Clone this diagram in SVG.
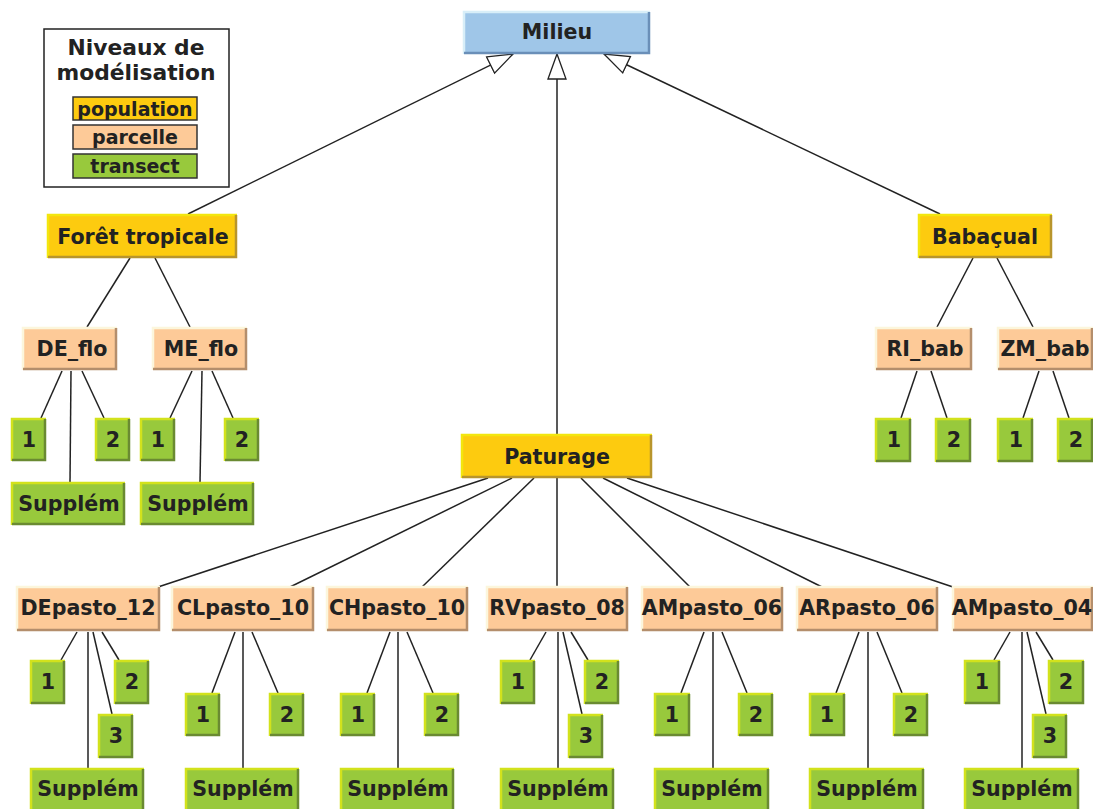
<svg xmlns="http://www.w3.org/2000/svg" width="1093" height="809" viewBox="0 0 1093 809">
<style>
text{font-family:"DejaVu Sans","Liberation Sans",sans-serif;font-weight:bold;fill:#222;text-anchor:middle}
.t{font-size:20.6px}
.lt{font-size:21.8px}
.li{font-size:19px}
.blue{fill:#9fc6e8}
.pop{fill:#fdcb0f}
.parc{fill:#fdca98}
.tr{fill:#98c93c}
.hl,.sh{fill:none;stroke-width:2.5}
.blue-h{stroke:#d8eef8}.blue-s{stroke:#6a8fb8}
.pop-h{stroke:#f3e60e}.pop-s{stroke:#b8952c}
.parc-h{stroke:#fcf6dc}.parc-s{stroke:#b48e6c}
.tr-h{stroke:#d2e21c}.tr-s{stroke:#6a8a32}
#connectors line{stroke:#222;stroke-width:1.5}
</style>
<defs>
<marker id="tri" markerUnits="userSpaceOnUse" markerWidth="30" markerHeight="22" refX="26" refY="10" orient="auto">
<path d="M1,1 L26,10 L1,19 z" fill="#fff" stroke="#222" stroke-width="1.3"/>
</marker>
</defs>
<rect width="1093" height="809" fill="#fff"/>

<g id="legend">
<rect x="44" y="29" width="185" height="158" fill="#fff" stroke="#222" stroke-width="1.5"/>
<text class="lt" x="136" y="55">Niveaux de</text>
<text class="lt" x="136" y="80">modélisation</text>
<rect x="73" y="97" width="124" height="23" class="pop" stroke="#333" stroke-width="1.5"/>
<text class="li" x="135" y="115.5">population</text>
<rect x="73" y="125" width="124" height="24" class="parc" stroke="#333" stroke-width="1.5"/>
<text class="li" x="135" y="143.5">parcelle</text>
<rect x="73" y="154" width="124" height="24" class="tr" stroke="#333" stroke-width="1.5"/>
<text class="li" x="135" y="172.5">transect</text>
</g>

<g id="connectors">
<line x1="188" y1="214" x2="513" y2="54" marker-end="url(#tri)"/>
<line x1="557" y1="434" x2="557" y2="54" marker-end="url(#tri)"/>
<line x1="940" y1="214" x2="604" y2="54" marker-end="url(#tri)"/>
<line x1="130" y1="258" x2="87" y2="327"/>
<line x1="155" y1="258" x2="190" y2="327"/>
<line x1="973" y1="258" x2="937" y2="327"/>
<line x1="997" y1="258" x2="1033" y2="327"/>
<line x1="62" y1="371" x2="41" y2="418"/>
<line x1="71" y1="371" x2="70" y2="482"/>
<line x1="82" y1="371" x2="104" y2="418"/>
<line x1="192" y1="371" x2="170" y2="418"/>
<line x1="202" y1="371" x2="200" y2="482"/>
<line x1="212" y1="371" x2="233" y2="418"/>
<line x1="917" y1="371" x2="901" y2="418"/>
<line x1="931" y1="371" x2="947" y2="418"/>
<line x1="1039" y1="371" x2="1023" y2="418"/>
<line x1="1053" y1="371" x2="1069" y2="418"/>
<line x1="488" y1="478" x2="158" y2="587"/>
<line x1="512" y1="478" x2="290" y2="587"/>
<line x1="534" y1="478" x2="422" y2="587"/>
<line x1="557" y1="478" x2="557" y2="587"/>
<line x1="581" y1="478" x2="690" y2="587"/>
<line x1="603" y1="478" x2="822" y2="587"/>
<line x1="627" y1="478" x2="953" y2="587"/>
<line x1="77" y1="632" x2="61" y2="660"/>
<line x1="88" y1="632" x2="88" y2="768"/>
<line x1="93" y1="632" x2="112" y2="714"/>
<line x1="102" y1="632" x2="119" y2="660"/>
<line x1="235" y1="632" x2="212" y2="693"/>
<line x1="243" y1="632" x2="243" y2="768"/>
<line x1="252" y1="632" x2="278" y2="693"/>
<line x1="390" y1="632" x2="367" y2="693"/>
<line x1="398" y1="632" x2="398" y2="768"/>
<line x1="407" y1="632" x2="433" y2="693"/>
<line x1="546" y1="632" x2="530" y2="660"/>
<line x1="558" y1="632" x2="558" y2="768"/>
<line x1="563" y1="632" x2="582" y2="714"/>
<line x1="571" y1="632" x2="588" y2="660"/>
<line x1="704" y1="632" x2="681" y2="693"/>
<line x1="713" y1="632" x2="713" y2="768"/>
<line x1="722" y1="632" x2="747" y2="693"/>
<line x1="859" y1="632" x2="836" y2="693"/>
<line x1="868" y1="632" x2="868" y2="768"/>
<line x1="877" y1="632" x2="902" y2="693"/>
<line x1="1010" y1="632" x2="994" y2="660"/>
<line x1="1022" y1="632" x2="1022" y2="768"/>
<line x1="1027" y1="632" x2="1046" y2="714"/>
<line x1="1036" y1="632" x2="1053" y2="660"/>
</g>

<g id="milieu"><rect class="blue" x="463" y="11" width="187" height="43"/><path class="hl blue-h" d="M464,54V12H650"/><path class="sh blue-s" d="M649,12V53H464"/><text class="t" x="557" y="38.5">Milieu</text></g>

<g id="foret"><rect class="pop" x="47" y="214" width="190" height="44"/><path class="hl pop-h" d="M48,258V215H237"/><path class="sh pop-s" d="M236,215V257H48"/><text class="t" x="143" y="243.5">Forêt tropicale</text></g>
<g id="babacual"><rect class="pop" x="918" y="214" width="134" height="44"/><path class="hl pop-h" d="M919,258V215H1052"/><path class="sh pop-s" d="M1051,215V257H919"/><text class="t" x="985" y="243.5">Babaçual</text></g>
<g id="paturage"><rect class="pop" x="461" y="434" width="191" height="44"/><path class="hl pop-h" d="M462,478V435H652"/><path class="sh pop-s" d="M651,435V477H462"/><text class="t" x="557" y="463.5">Paturage</text></g>

<g id="DE_flo"><rect class="parc" x="22" y="327" width="95" height="43"/><path class="hl parc-h" d="M23,370V328H117"/><path class="sh parc-s" d="M116,328V369H23"/><text class="t" x="72" y="355.5">DE_flo</text></g>
<g id="ME_flo"><rect class="parc" x="152" y="327" width="95" height="43"/><path class="hl parc-h" d="M153,370V328H247"/><path class="sh parc-s" d="M246,328V369H153"/><text class="t" x="201" y="355.5">ME_flo</text></g>
<g id="RI_bab"><rect class="parc" x="875" y="327" width="97" height="43"/><path class="hl parc-h" d="M876,370V328H972"/><path class="sh parc-s" d="M971,328V369H876"/><text class="t" x="925" y="355.5">RI_bab</text></g>
<g id="ZM_bab"><rect class="parc" x="997" y="327" width="96" height="43"/><path class="hl parc-h" d="M998,370V328H1093"/><path class="sh parc-s" d="M1092,328V369H998"/><text class="t" x="1045" y="355.5">ZM_bab</text></g>

<g id="DEpasto_12"><rect class="parc" x="16" y="586" width="144" height="45"/><path class="hl parc-h" d="M17,631V587H160"/><path class="sh parc-s" d="M159,587V630H17"/><text class="t" x="88" y="615">DEpasto_12</text></g>
<g id="CLpasto_10"><rect class="parc" x="171" y="586" width="143" height="45"/><path class="hl parc-h" d="M172,631V587H314"/><path class="sh parc-s" d="M313,587V630H172"/><text class="t" x="243" y="615">CLpasto_10</text></g>
<g id="CHpasto_10"><rect class="parc" x="326" y="586" width="142" height="45"/><path class="hl parc-h" d="M327,631V587H468"/><path class="sh parc-s" d="M467,587V630H327"/><text class="t" x="397" y="615">CHpasto_10</text></g>
<g id="RVpasto_08"><rect class="parc" x="486" y="586" width="142" height="45"/><path class="hl parc-h" d="M487,631V587H628"/><path class="sh parc-s" d="M627,587V630H487"/><text class="t" x="557" y="615">RVpasto_08</text></g>
<g id="AMpasto_06"><rect class="parc" x="641" y="586" width="142" height="45"/><path class="hl parc-h" d="M642,631V587H783"/><path class="sh parc-s" d="M782,587V630H642"/><text class="t" x="712" y="615">AMpasto_06</text></g>
<g id="ARpasto_06"><rect class="parc" x="796" y="586" width="142" height="45"/><path class="hl parc-h" d="M797,631V587H938"/><path class="sh parc-s" d="M937,587V630H797"/><text class="t" x="867" y="615">ARpasto_06</text></g>
<g id="AMpasto_04"><rect class="parc" x="952" y="586" width="141" height="45"/><path class="hl parc-h" d="M953,631V587H1093"/><path class="sh parc-s" d="M1092,587V630H953"/><text class="t" x="1022" y="615">AMpasto_04</text></g>

<g id="DE_flo_1"><rect class="tr" x="11" y="418" width="35" height="43"/><path class="hl tr-h" d="M12,461V419H46"/><path class="sh tr-s" d="M45,419V460H12"/><text class="t" x="29" y="446.5">1</text></g>
<g id="DE_flo_2"><rect class="tr" x="95" y="418" width="35" height="43"/><path class="hl tr-h" d="M96,461V419H130"/><path class="sh tr-s" d="M129,419V460H96"/><text class="t" x="113" y="446.5">2</text></g>
<g id="DE_flo_S"><rect class="tr" x="11" y="482" width="114" height="43"/><path class="hl tr-h" d="M12,525V483H125"/><path class="sh tr-s" d="M124,483V524H12"/><text class="t" x="69" y="510.5">Supplém</text></g>
<g id="ME_flo_1"><rect class="tr" x="140" y="418" width="35" height="43"/><path class="hl tr-h" d="M141,461V419H175"/><path class="sh tr-s" d="M174,419V460H141"/><text class="t" x="158" y="446.5">1</text></g>
<g id="ME_flo_2"><rect class="tr" x="224" y="418" width="35" height="43"/><path class="hl tr-h" d="M225,461V419H259"/><path class="sh tr-s" d="M258,419V460H225"/><text class="t" x="242" y="446.5">2</text></g>
<g id="ME_flo_S"><rect class="tr" x="140" y="482" width="114" height="43"/><path class="hl tr-h" d="M141,525V483H254"/><path class="sh tr-s" d="M253,483V524H141"/><text class="t" x="198" y="510.5">Supplém</text></g>

<g id="RI_bab_1"><rect class="tr" x="875" y="418" width="36" height="44"/><path class="hl tr-h" d="M876,462V419H911"/><path class="sh tr-s" d="M910,419V461H876"/><text class="t" x="894" y="446.5">1</text></g>
<g id="RI_bab_2"><rect class="tr" x="935" y="418" width="36" height="44"/><path class="hl tr-h" d="M936,462V419H971"/><path class="sh tr-s" d="M970,419V461H936"/><text class="t" x="954" y="446.5">2</text></g>
<g id="ZM_bab_1"><rect class="tr" x="997" y="418" width="36" height="44"/><path class="hl tr-h" d="M998,462V419H1033"/><path class="sh tr-s" d="M1032,419V461H998"/><text class="t" x="1016" y="446.5">1</text></g>
<g id="ZM_bab_2"><rect class="tr" x="1057" y="418" width="36" height="44"/><path class="hl tr-h" d="M1058,462V419H1093"/><path class="sh tr-s" d="M1092,419V461H1058"/><text class="t" x="1076" y="446.5">2</text></g>

<g id="DEp12_1"><rect class="tr" x="30" y="660" width="35" height="44"/><path class="hl tr-h" d="M31,704V661H65"/><path class="sh tr-s" d="M64,661V703H31"/><text class="t" x="48" y="689">1</text></g>
<g id="DEp12_2"><rect class="tr" x="114" y="660" width="35" height="44"/><path class="hl tr-h" d="M115,704V661H149"/><path class="sh tr-s" d="M148,661V703H115"/><text class="t" x="132" y="689">2</text></g>
<g id="DEp12_3"><rect class="tr" x="98" y="714" width="35" height="44"/><path class="hl tr-h" d="M99,758V715H133"/><path class="sh tr-s" d="M132,715V757H99"/><text class="t" x="116" y="743">3</text></g>
<g id="DEp12_S"><rect class="tr" x="30" y="768" width="114" height="44"/><path class="hl tr-h" d="M31,812V769H144"/><path class="sh tr-s" d="M143,769V811H31"/><text class="t" x="88" y="795.5">Supplém</text></g>

<g id="CLp10_1"><rect class="tr" x="185" y="693" width="35" height="43"/><path class="hl tr-h" d="M186,736V694H220"/><path class="sh tr-s" d="M219,694V735H186"/><text class="t" x="203" y="721.5">1</text></g>
<g id="CLp10_2"><rect class="tr" x="269" y="693" width="35" height="43"/><path class="hl tr-h" d="M270,736V694H304"/><path class="sh tr-s" d="M303,694V735H270"/><text class="t" x="287" y="721.5">2</text></g>
<g id="CLp10_S"><rect class="tr" x="185" y="768" width="114" height="44"/><path class="hl tr-h" d="M186,812V769H299"/><path class="sh tr-s" d="M298,769V811H186"/><text class="t" x="243" y="795.5">Supplém</text></g>

<g id="CHp10_1"><rect class="tr" x="340" y="693" width="35" height="43"/><path class="hl tr-h" d="M341,736V694H375"/><path class="sh tr-s" d="M374,694V735H341"/><text class="t" x="358" y="721.5">1</text></g>
<g id="CHp10_2"><rect class="tr" x="424" y="693" width="35" height="43"/><path class="hl tr-h" d="M425,736V694H459"/><path class="sh tr-s" d="M458,694V735H425"/><text class="t" x="442" y="721.5">2</text></g>
<g id="CHp10_S"><rect class="tr" x="340" y="768" width="114" height="44"/><path class="hl tr-h" d="M341,812V769H454"/><path class="sh tr-s" d="M453,769V811H341"/><text class="t" x="398" y="795.5">Supplém</text></g>

<g id="RVp08_1"><rect class="tr" x="500" y="660" width="35" height="44"/><path class="hl tr-h" d="M501,704V661H535"/><path class="sh tr-s" d="M534,661V703H501"/><text class="t" x="518" y="689">1</text></g>
<g id="RVp08_2"><rect class="tr" x="584" y="660" width="35" height="44"/><path class="hl tr-h" d="M585,704V661H619"/><path class="sh tr-s" d="M618,661V703H585"/><text class="t" x="602" y="689">2</text></g>
<g id="RVp08_3"><rect class="tr" x="568" y="714" width="35" height="44"/><path class="hl tr-h" d="M569,758V715H603"/><path class="sh tr-s" d="M602,715V757H569"/><text class="t" x="586" y="743">3</text></g>
<g id="RVp08_S"><rect class="tr" x="500" y="768" width="114" height="44"/><path class="hl tr-h" d="M501,812V769H614"/><path class="sh tr-s" d="M613,769V811H501"/><text class="t" x="558" y="795.5">Supplém</text></g>

<g id="AMp06_1"><rect class="tr" x="654" y="693" width="36" height="43"/><path class="hl tr-h" d="M655,736V694H690"/><path class="sh tr-s" d="M689,694V735H655"/><text class="t" x="672" y="721.5">1</text></g>
<g id="AMp06_2"><rect class="tr" x="738" y="693" width="35" height="43"/><path class="hl tr-h" d="M739,736V694H773"/><path class="sh tr-s" d="M772,694V735H739"/><text class="t" x="756" y="721.5">2</text></g>
<g id="AMp06_S"><rect class="tr" x="654" y="768" width="115" height="44"/><path class="hl tr-h" d="M655,812V769H769"/><path class="sh tr-s" d="M768,769V811H655"/><text class="t" x="712" y="795.5">Supplém</text></g>

<g id="ARp06_1"><rect class="tr" x="809" y="693" width="36" height="43"/><path class="hl tr-h" d="M810,736V694H845"/><path class="sh tr-s" d="M844,694V735H810"/><text class="t" x="827" y="721.5">1</text></g>
<g id="ARp06_2"><rect class="tr" x="893" y="693" width="35" height="43"/><path class="hl tr-h" d="M894,736V694H928"/><path class="sh tr-s" d="M927,694V735H894"/><text class="t" x="911" y="721.5">2</text></g>
<g id="ARp06_S"><rect class="tr" x="809" y="768" width="115" height="44"/><path class="hl tr-h" d="M810,812V769H924"/><path class="sh tr-s" d="M923,769V811H810"/><text class="t" x="867" y="795.5">Supplém</text></g>

<g id="AMp04_1"><rect class="tr" x="964" y="660" width="36" height="44"/><path class="hl tr-h" d="M965,704V661H1000"/><path class="sh tr-s" d="M999,661V703H965"/><text class="t" x="982" y="689">1</text></g>
<g id="AMp04_2"><rect class="tr" x="1048" y="660" width="36" height="44"/><path class="hl tr-h" d="M1049,704V661H1084"/><path class="sh tr-s" d="M1083,661V703H1049"/><text class="t" x="1066" y="689">2</text></g>
<g id="AMp04_3"><rect class="tr" x="1032" y="714" width="35" height="44"/><path class="hl tr-h" d="M1033,758V715H1067"/><path class="sh tr-s" d="M1066,715V757H1033"/><text class="t" x="1050" y="743">3</text></g>
<g id="AMp04_S"><rect class="tr" x="964" y="768" width="115" height="44"/><path class="hl tr-h" d="M965,812V769H1079"/><path class="sh tr-s" d="M1078,769V811H965"/><text class="t" x="1022" y="795.5">Supplém</text></g>
</svg>
